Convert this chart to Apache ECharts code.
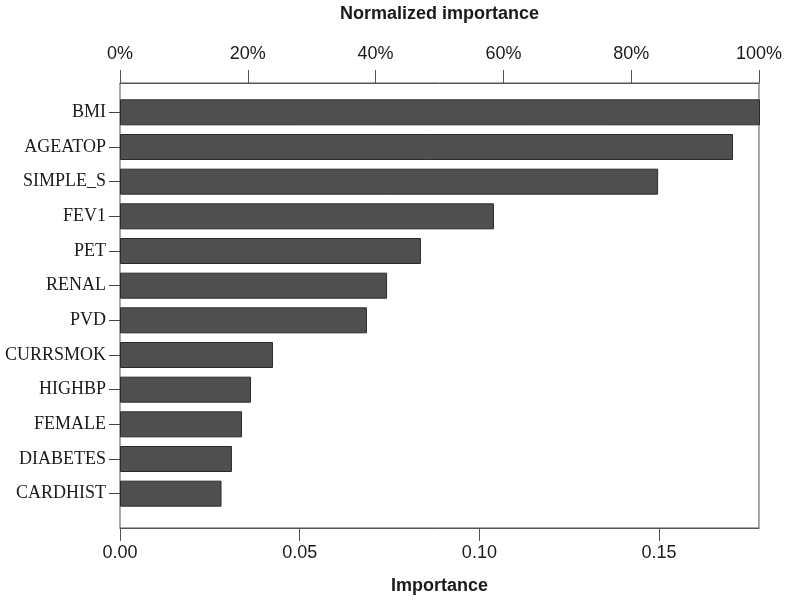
<!DOCTYPE html>
<html>
<head>
<meta charset="utf-8">
<script src="https://cdn.jsdelivr.net/npm/echarts@6/dist/echarts.min.js"></script>
<style>html,body{margin:0;padding:0;background:#fff}#c{width:785px;height:600px}</style>
</head>
<body>
<div id="c"></div>
<script>
const categories = ['BMI','AGEATOP','SIMPLE_S','FEV1','PET','RENAL','PVD','CURRSMOK','HIGHBP','FEMALE','DIABETES','CARDHIST'];
const importance = [0.1778,0.1703,0.1495,0.1039,0.0836,0.0742,0.0686,0.0425,0.0364,0.0339,0.0311,0.0282];
const maxImportance = 0.1778;
const bottomTicks = [0, 0.05, 0.10, 0.15];
const topTicks = ['0%','20%','40%','60%','80%','100%'];

const chart = echarts.init(document.getElementById('c'));
const sans = 'Liberation Sans';
const txt = '#1a1a1a';
chart.setOption({
  animation: false,
  grid: [
    {left: 120, right: 25, top: 71, bottom: 66, show: true, borderColor: '#555', borderWidth: 1},
    {left: 120, right: 25, top: 95, bottom: 89}
  ],
  xAxis: [
    {gridIndex: 0, type: 'value', position: 'bottom', min: 0, max: maxImportance, interval: 0.05,
     axisLine: {show: true, lineStyle: {color: '#555'}},
     axisTick: {show: true, length: 13, lineStyle: {color: '#555'}},
     splitLine: {show: false},
     axisLabel: {fontFamily: sans, fontSize: 18, color: txt, margin: 16, showMaxLabel: false,
       formatter: v => bottomTicks.some(t => Math.abs(t - v) < 1e-9) ? v.toFixed(2) : ''},
     name: 'Importance', nameLocation: 'middle', nameGap: 49,
     nameTextStyle: {fontFamily: sans, fontSize: 18, fontWeight: 'bold', color: txt}},
    {gridIndex: 0, type: 'value', position: 'top', min: 0, max: 100, interval: 20,
     axisLine: {show: true, lineStyle: {color: '#555'}},
     axisTick: {show: true, length: 13, lineStyle: {color: '#555'}},
     splitLine: {show: false},
     axisLabel: {fontFamily: sans, fontSize: 18, color: txt, margin: 20,
       formatter: v => topTicks[Math.round(v / 20)]},
     name: 'Normalized importance', nameLocation: 'middle', nameGap: 60,
     nameTextStyle: {fontFamily: sans, fontSize: 18, fontWeight: 'bold', color: txt}},
    {gridIndex: 1, type: 'value', min: 0, max: maxImportance, show: false}
  ],
  yAxis: [
    {gridIndex: 0, type: 'value', show: false},
    {gridIndex: 1, type: 'category', inverse: true, data: categories,
     axisLine: {show: false},
     axisTick: {show: true, alignWithLabel: true, length: 11, lineStyle: {color: '#444'}},
     axisLabel: {fontFamily: 'Liberation Serif', fontSize: 18, color: txt, margin: 14}}
  ],
  series: [{
    type: 'bar', xAxisIndex: 2, yAxisIndex: 1, data: importance, barWidth: 26,
    itemStyle: {color: '#4f4f4f', borderColor: '#2b2b2b', borderWidth: 1}
  }]
});
</script>
</body>
</html>
